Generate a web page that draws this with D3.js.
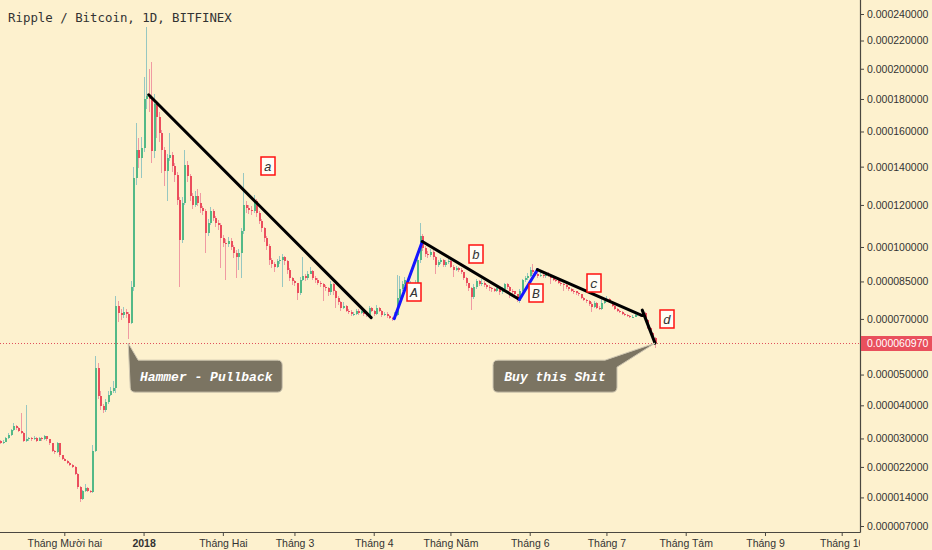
<!DOCTYPE html>
<html><head><meta charset="utf-8">
<script src="https://cdn.jsdelivr.net/npm/d3@7"></script>
<style>
html,body{margin:0;padding:0;background:#fdf1ce;overflow:hidden;}
svg{display:block;}
</style></head><body>
<svg id="chart" width="932" height="550"></svg>
<script>
// ---------------- DATA (prices in satoshi, 1 sat = 0.00000001 BTC) ----------------
const title = "Ripple / Bitcoin, 1D, BITFINEX";
const startDate = new Date(2017, 10, 6);   // first daily candle
const firstOpenSat = 2930;
const closeSat = [
 2880,2910,3000,3090,3240,3360,3300,3210,3150,2940,
 2970,3000,2970,3000,2940,3000,2970,3060,2970,2855,
 2655,2600,2855,2515,2430,2375,2320,2260,2205,2015,
 1665,1350,1560,1640,1560,1530,2655,5230,4300,3975,
 3850,4100,4330,4460,4560,7520,7245,7165,7285,7205,
 6860,8250,13390,14920,14470,15030,18010,18200,18010,14860,
 17700,16900,15890,14920,13760,14470,14640,14030,13550,12260,
 10340,12110,14085,13500,12460,12010,12460,12110,11860,11715,
 10660,11130,11715,11370,11130,11035,10430,10200,10155,10290,
 10015,9750,9530,9750,10750,12010,11860,11760,11715,12210,
 11615,11225,10890,10430,10060,9400,9225,9135,9355,9440,
 9530,9355,9005,8665,8500,8415,8005,8580,8750,8625,
 8835,8960,8665,8580,8455,8375,8290,8210,8045,8375,
 8085,7840,7680,7440,7520,7325,7285,7205,7205,7325,
 7245,7325,7205,7165,7440,7325,7205,7440,7325,7165,
 7205,7130,7050,7010,7165,7840,8170,8375,8540,8250,
 8375,8170,8455,9400,10520,9970,9705,9620,9795,9530,
 9180,9310,9400,9180,9310,9355,9135,9005,9050,9005,
 8880,8625,8415,8210,7880,8250,8500,8375,8455,8335,
 8290,8210,8170,8125,8210,8045,8170,8375,8250,8125,
 8085,7965,7760,8125,8540,8625,8750,9005,8880,8835,
 8750,8790,8710,8835,8750,8665,8580,8540,8455,8375,
 8335,8250,8170,8125,8085,8005,7965,7840,7760,7720,
 7600,7480,7640,7440,7400,7640,7720,7800,7680,7520,
 7400,7325,7285,7205,7165,7130,7090,7090,7165,7205,
 7130,7245,6975,6670,6485,6300,6097
];
const highSat = [
 2960,2950,3040,3150,3290,3450,3400,3340,3750,3180,
 4000,3050,3040,3060,3030,3040,3030,3100,3080,2990,
 2870,2680,2900,2870,2540,2450,2400,2340,2280,2230,
 2040,1700,1600,1750,1670,1580,2800,5650,5400,4450,
 4050,4200,4450,4600,4800,7920,7700,7400,7450,7400,
 7285,8500,14000,16480,15600,15700,19430,23025,19970,20450,
 18300,17900,17200,16100,15100,14700,15900,14800,14200,13700,
 12400,12400,14900,14300,13600,12600,12700,12800,12600,11950,
 11800,11300,11900,11800,11450,11250,11100,10550,10350,10450,
 10400,10100,9850,9900,10900,13650,12200,12000,11950,12510,
 12300,11700,11300,10950,10500,10150,9500,9350,9450,9600,
 9700,9600,9400,9050,8700,8550,8450,8700,9530,8800,
 8950,9100,9000,8750,8650,8500,8420,8350,8250,8500,
 8420,8150,7900,7720,7650,7560,7400,7350,7280,7400,
 7380,7450,7360,7250,7520,7480,7360,7560,7480,7350,
 7280,7250,7170,7090,7250,8790,8750,8500,8700,8600,
 8500,8420,8550,9550,11130,10600,10050,9800,9900,9850,
 9580,9400,9500,9450,9400,9450,9400,9200,9150,9100,
 9050,8920,8700,8450,8250,8400,8600,8550,8600,8500,
 8400,8350,8280,8220,8300,8250,8260,8450,8420,8300,
 8200,8120,8000,8200,8620,8750,8850,9100,9225,8950,
 8900,8880,8850,8900,8880,8800,8700,8620,8580,8500,
 8420,8380,8290,8220,8170,8120,8050,8000,7880,7800,
 7760,7650,7720,7680,7500,7840,7800,7920,7840,7720,
 7560,7440,7360,7320,7240,7200,7160,7140,7220,7260,
 7240,7400,7280,7000,6700,6520,6330
];
const lowSat = [
 2840,2850,2890,2980,3060,3220,3260,3180,3120,2900,
 2910,2940,2930,2950,2900,2920,2930,2950,2940,2820,
 2620,2560,2580,2480,2400,2350,2290,2230,2170,1980,
 1620,1280,1330,1530,1530,1500,1510,2600,4200,3850,
 3750,3800,4050,4280,4400,4400,6900,6950,7050,7050,
 6230,6800,8100,13000,13920,13400,14800,17390,17200,14200,
 14500,15600,15400,13650,12970,12200,14300,13700,13200,12000,
 8250,10200,12000,13200,12200,11800,11900,11950,11600,11500,
 9750,10500,11000,11200,10950,10800,9090,10000,8580,10000,
 9850,9500,8665,9000,8665,10600,11600,11550,11500,11600,
 11400,11050,10700,10250,9850,9200,9050,8900,9050,9250,
 8250,9200,8800,8500,8350,8300,7760,7950,8500,8500,
 8550,8800,8550,8450,8350,8250,7700,8100,7900,7950,
 7950,7440,7550,7300,7380,7250,7200,7130,7100,7150,
 7170,7200,7130,7090,7130,7250,7130,7170,7250,7090,
 7100,7050,6990,6930,6970,7130,7800,8100,8300,8150,
 8200,8050,8100,8400,9300,9800,9550,9500,9550,9400,
 8800,9100,9250,9100,9100,9250,9050,8700,8950,8900,
 8800,8550,8300,8100,7360,7800,8200,8300,8300,8250,
 8200,8100,8080,8050,8080,7950,8000,8120,8170,7840,
 8000,7880,7680,7640,8080,8480,8580,8700,8820,8750,
 8650,8680,8640,8660,8680,8375,8500,8460,8380,8300,
 8125,8180,8100,8050,8000,7930,7900,7770,7690,7640,
 7520,7285,7440,7380,7330,7360,7600,7680,7620,7450,
 7340,7260,7220,7150,7110,7080,7040,7030,7060,7120,
 7080,7100,6930,6620,6430,6250,5935
];
const lastPriceSat = 6097;

const monthTickDates = [
 new Date(2017,11,1), new Date(2018,0,1), new Date(2018,1,1), new Date(2018,2,1),
 new Date(2018,3,1), new Date(2018,4,1), new Date(2018,5,1), new Date(2018,6,1),
 new Date(2018,7,1), new Date(2018,8,1), new Date(2018,9,1)
];
const monthTickLabels = ["Tháng Mười hai","2018","Tháng Hai","Tháng 3","Tháng 4",
 "Tháng Năm","Tháng 6","Tháng 7","Tháng Tám","Tháng 9","Tháng 10"];
const yTickValues = [24000,22000,20000,18000,16000,14000,12000,10000,8500,7000,5000,4000,3000,2200,1400,700];

// drawings: [dayIndex from startDate, price in sat]
const lineA_lower = [[58,18270],[145,7050]];
const lineA_up    = [[154,7010],[165,10250]];
const lineB_lower = [[165,10250],[203,7760]];
const lineB_up    = [[203,7760],[210,9000]];
const lineC_lower = [[210,9000],[251,7130]];
const lineD_lower = [[251,7340],[256,6097]];
const waveLabelText  = ["a","A","b","B","c","d"];
const waveLabelDay   = [104.5,161.6,185.9,209.6,232.3,260.6];
const waveLabelPrice = [14060,8065,9680,8005,8455,6995];
const calloutText  = ["Hammer - Pullback","Buy this Shit"];
const calloutDay   = [50,256];
const calloutPrice = [6097,6097];
const calloutSide  = ["left","right"];

// ---------------- CHART ----------------
const W = 932, H = 550, axisX = 860, axisY = 532;
const svg = d3.select("#chart");
svg.append("rect").attr("width",W).attr("height",H).attr("fill","#fdf1ce");

const dayDate = i => new Date(startDate.getTime() + i*86400000);
const x = d3.scaleTime().domain([new Date(2017,11,1), new Date(2018,9,1)]).range([64.3, 841.7]);
const y = d3.scaleSymlog().constant(9500).domain([700,24000]).range([526,14]);

const defs = svg.append("defs");
defs.append("clipPath").attr("id","plot").append("rect").attr("x",0).attr("y",0).attr("width",axisX).attr("height",axisY);
defs.append("clipPath").attr("id","xax").append("rect").attr("x",0).attr("y",0).attr("width",axisX).attr("height",H);

const candles = closeSat.map((c,i)=>({
  date: dayDate(i), o: i===0 ? firstOpenSat : closeSat[i-1], c, h: highSat[i], l: lowSat[i]
}));

const UP="#53b987", DOWN="#eb4d5c", UPW="#97c7c1", DOWNW="#f09aa2";
const plot = svg.append("g").attr("clip-path","url(#plot)");
plot.append("g").attr("shape-rendering","crispEdges").selectAll("line").data(candles).join("line")
  .attr("x1",d=>Math.round(x(d.date))+0.5).attr("x2",d=>Math.round(x(d.date))+0.5)
  .attr("y1",d=>y(d.h)).attr("y2",d=>y(d.l))
  .attr("stroke",d=>d.c>=d.o?UPW:DOWNW).attr("stroke-width",1);
plot.append("g").attr("shape-rendering","crispEdges").selectAll("rect").data(candles).join("rect")
  .attr("x",d=>Math.round(x(d.date))-0.5).attr("width",2)
  .attr("y",d=>y(Math.max(d.o,d.c)))
  .attr("height",d=>Math.max(1,Math.abs(y(d.o)-y(d.c))))
  .attr("fill",d=>d.c>=d.o?UP:DOWN);

// last price dotted line
plot.append("line").attr("x1",0).attr("x2",axisX)
  .attr("y1",Math.round(y(lastPriceSat))+0.5).attr("y2",Math.round(y(lastPriceSat))+0.5)
  .attr("stroke","#e0505c").attr("stroke-width",1).attr("stroke-dasharray","1,2");

// trend lines
const lines = [[lineA_lower,"#000"],[lineA_up,"#1616ff"],[lineB_lower,"#000"],[lineB_up,"#1616ff"],[lineC_lower,"#000"],[lineD_lower,"#000"]];
const lg = d3.line().x(p=>x(dayDate(p[0]))).y(p=>y(p[1]));
plot.append("g").selectAll("path").data(lines).join("path")
  .attr("d",d=>lg(d[0])).attr("stroke",d=>d[1]).attr("stroke-width",3)
  .attr("stroke-linecap","round").attr("fill","none");

// wave labels
const wl = plot.append("g").selectAll("g").data(waveLabelText).join("g")
  .attr("transform",(t,i)=>`translate(${Math.round(x(dayDate(waveLabelDay[i])))},${Math.round(y(waveLabelPrice[i]))})`);
wl.append("rect").attr("x",-7).attr("y",-9).attr("width",14).attr("height",18)
  .attr("fill","#fffdf6").attr("stroke","#ff1010").attr("stroke-width",1.5);
wl.append("text").text(t=>t).attr("text-anchor","middle").attr("dy","0.35em")
  .attr("font-family","'Liberation Mono','DejaVu Sans Mono',monospace").attr("font-style","italic")
  .attr("font-size",13).attr("fill","#333");

// callouts
const cg = svg.append("g");
calloutText.forEach((t,i)=>{
  const tx = x(dayDate(calloutDay[i])), ty = y(calloutPrice[i]), r=5;
  let L,R,T=ty+17,B=ty+49,p;
  if(calloutSide[i]==="left"){
    L=tx+2; R=tx+154;
    p=`M${tx},${ty} L${tx+10},${T} L${R-r},${T} Q${R},${T} ${R},${T+r} L${R},${B-r} Q${R},${B} ${R-r},${B} L${L+r},${B} Q${L},${B} ${L},${B-r} Z`;
  } else {
    L=tx-162; R=tx-38;
    p=`M${L+r},${T} L${tx-50},${T} L${tx},${ty} L${R},${T+7} L${R},${B-r} Q${R},${B} ${R-r},${B} L${L+r},${B} Q${L},${B} ${L},${B-r} L${L},${T+r} Q${L},${T} ${L+r},${T} Z`;
  }
  cg.append("path").attr("d",p).attr("fill","#7b7462").attr("stroke","#cfc7b2").attr("stroke-width",1);
  cg.append("text").text(t).attr("x",(L+R)/2).attr("y",(T+B)/2).attr("dy","0.35em")
    .attr("text-anchor","middle").attr("fill","#fff")
    .attr("font-family","'Liberation Mono','DejaVu Sans Mono',monospace")
    .attr("font-style","italic").attr("font-weight","bold").attr("font-size",13);
});

// axes
const AX="#4a4740", TXT="#333";
svg.append("line").attr("x1",axisX+0.5).attr("x2",axisX+0.5).attr("y1",0).attr("y2",axisY+0.5)
  .attr("stroke",AX).attr("stroke-width",1.2);
svg.append("line").attr("x1",0).attr("x2",axisX+0.5).attr("y1",axisY+0.5).attr("y2",axisY+0.5)
  .attr("stroke",AX).attr("stroke-width",1.2);

const yAxis = svg.append("g").attr("transform",`translate(${axisX},0)`)
  .call(d3.axisRight(y).tickValues(yTickValues).tickFormat(d=>(d/1e8).toFixed(9)).tickSize(4).tickPadding(3));
yAxis.select(".domain").remove();
yAxis.selectAll("line").attr("stroke",AX);
yAxis.selectAll("text").attr("fill",TXT).attr("font-family","'Liberation Sans',Arial,sans-serif").attr("font-size",10.5);

const xAxis = svg.append("g").attr("transform",`translate(0,${axisY})`).attr("clip-path","url(#xax)")
  .call(d3.axisBottom(x).tickValues(monthTickDates).tickFormat((d,i)=>monthTickLabels[i]).tickSize(4).tickPadding(4));
xAxis.select(".domain").remove();
xAxis.selectAll("line").attr("stroke",AX);
xAxis.selectAll("text").attr("fill",TXT).attr("font-family","'Liberation Sans',Arial,sans-serif").attr("font-size",10.5)
  .attr("font-weight",(d,i)=>monthTickLabels[i]==="2018"?"bold":"normal");

// last price label
const lpY = Math.round(y(lastPriceSat))+0.5;
svg.append("rect").attr("x",axisX+1).attr("y",lpY-7.5).attr("width",W-axisX).attr("height",15).attr("fill","#e9505d");
svg.append("text").text((lastPriceSat/1e8).toFixed(9)).attr("x",axisX+7).attr("y",lpY).attr("dy","0.35em")
  .attr("fill","#fff").attr("font-family","'Liberation Sans',Arial,sans-serif").attr("font-size",10.5);

// title
svg.append("text").text(title).attr("x",8).attr("y",22)
  .attr("font-family","'DejaVu Sans Mono',monospace").attr("font-size",12.4).attr("fill","#333");
</script>
</body></html>
